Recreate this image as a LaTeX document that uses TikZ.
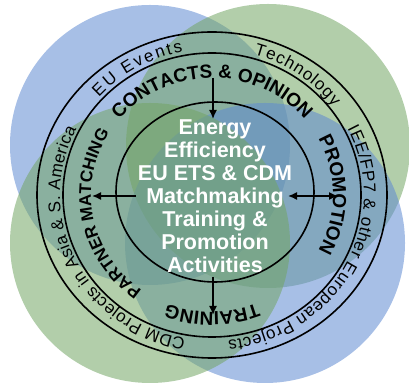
\documentclass[tikz,border=0pt]{standalone}
\usepackage{fontspec}
\setmainfont{Liberation Sans}
\usetikzlibrary{decorations.text, arrows.meta}
\newcommand{\outerfont}{\fontsize{17}{18}\selectfont}
\newcommand{\innerfont}{\fontsize{19}{20}\selectfont\bfseries}
\newcommand{\sidefont}{\fontsize{17}{18}\selectfont\bfseries}
\definecolor{circblue}{RGB}{95,138,210}
\definecolor{circgreen}{RGB}{115,165,100}

\begin{document}
\begin{tikzpicture}[x=1pt, y=1pt,
    ring/.style={draw, line width=1.6pt},
    blob/.style={fill opacity=0.55},
    pointer/.style={line width=1.5pt, -{Latex[length=9pt,width=8pt]}},
    outertext/.style={decorate, decoration={text along path, text={|\outerfont|#1}, text align={fit to path}}},
    innertext/.style={decorate, decoration={text along path, text={|\innerfont|#1}, text align=center}}]
  \useasboundingbox (0,0) rectangle (409,387);
  % overlapping circles
  \fill[blob, circblue] (150,242) circle[radius=140pt];
  \fill[blob, circgreen] (268,241) circle[radius=142pt];
  \fill[blob, circblue] (265,144) circle[radius=140pt];
  \fill[blob, circgreen] (150,144) circle[radius=140pt];

  \coordinate (ctr) at (212,192);
  \coordinate (mid) at (215,195);
  \draw[ring] (ctr) ellipse[x radius=175pt, y radius=163pt];
  \draw[ring] (ctr) ellipse[x radius=149pt, y radius=142pt];
  \draw[ring] (mid) ellipse[x radius=99pt, y radius=90pt];

  % outer ring
  \path[outertext={EU Events}] (ctr) ++(138:152pt and 146pt) arc[start angle=138, end angle=101, x radius=152pt, y radius=146pt];
  \path[outertext={Technology}] (ctr) ++(74:152pt and 146pt) arc[start angle=74, end angle=37, x radius=152pt, y radius=146pt];
  \path[outertext={IEE/FP7 {\&} other European Projects}] (ctr) ++(27:152pt and 146pt) arc[start angle=27, end angle=-84, x radius=152pt, y radius=146pt];
  \path[outertext={CDM Projects in Asia {\&} S. America}] (ctr) ++(260:152pt and 146pt) arc[start angle=260, end angle=153, x radius=152pt, y radius=146pt];

  % inner ring
  \path[innertext={CONTACTS {\&} OPINION}] (ctr) ++(160:121pt and 117pt) arc[start angle=160, end angle=20, x radius=121pt, y radius=117pt];
  \path[innertext={PROMOTION}] (ctr) ++(60:121pt and 117pt) arc[start angle=60, end angle=-60, x radius=121pt, y radius=117pt];
  \path[innertext={TRAINING}] (ctr) ++(330:121pt and 117pt) arc[start angle=330, end angle=210, x radius=121pt, y radius=117pt];
  \path[decorate, decoration={text along path, text={|\sidefont|PARTNER MATCHING}, text align=center}]
    (ctr) ++(271:121pt and 117pt) arc[start angle=271, end angle=111, x radius=121pt, y radius=117pt];

  \node[text=white, font=\fontsize{21.5}{23}\selectfont\bfseries, align=center] (core) at (215,191)
    {Energy\\Efficiency\\EU ETS \& CDM\\Matchmaking\\Training \&\\Promotion\\Activities};

  \coordinate (topA) at (213,309);
  \coordinate (topB) at (213,268);
  \coordinate (leftA) at (136,191);
  \coordinate (leftB) at (92,191);
  \coordinate (rightA) at (288,191);
  \coordinate (rightB) at (338,191);
  \coordinate (botA) at (213,110);
  \coordinate (botB) at (213,72);
  \draw[pointer] (topA) -- (topB);
  \draw[pointer] (leftA) -- (leftB);
  \draw[pointer, {Latex[length=9pt,width=8pt]}-{Latex[length=9pt,width=8pt]}] (rightA) -- (rightB);
  \draw[pointer] (botA) -- (botB);
\end{tikzpicture}
\end{document}
